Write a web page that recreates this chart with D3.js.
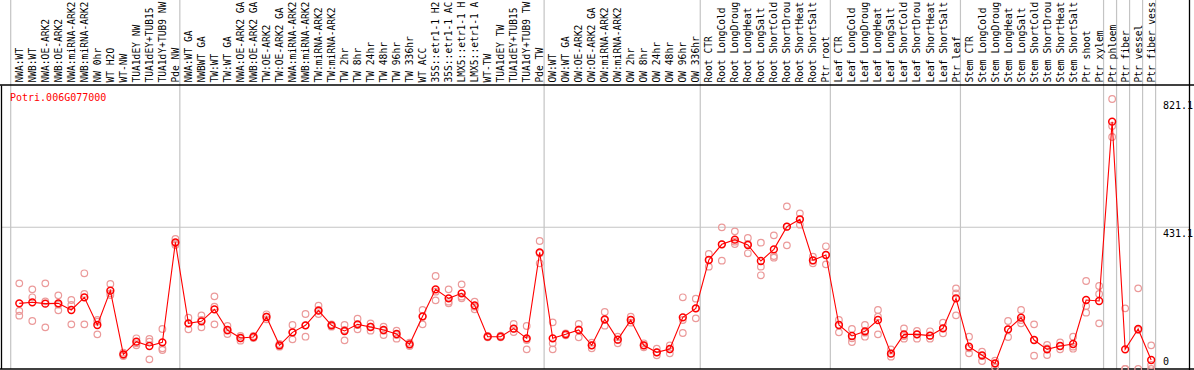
<!DOCTYPE html>
<html>
<head>
<meta charset="utf-8">
<script src="https://cdn.jsdelivr.net/npm/d3@7"></script>
<style>
  html, body { margin: 0; padding: 0; background: #fff; }
  svg { display: block; }
  text { font-family: "DejaVu Sans Mono", monospace; font-size: 10px; }
  text.cat { font-size: 9.6px; }
</style>
</head>
<body>
<script>
const geneName = "Potri.006G077000";

const categories = [
  "NWA:WT","NWB:WT","NWA:OE-ARK2","NWB:OE-ARK2","NWA:miRNA-ARK2","NWB:miRNA-ARK2","NW 0hr","WT H2O","WT-NW","TUA1dEY NW","TUA1dEY+TUB15","TUA1dY+TUB9 NW","Pde NW",
  "NWA:WT GA","NWBWT GA","TW:WT","TW:WT GA","NWA:OE-ARK2 GA","NWB:OE-ARK2 GA","TW:OE-ARK2","TW:OE-ARK2 GA","NWA:miRNA-ARK2","NWB:miRNA-ARK2","TW:miRNA-ARK2","TW:miRNA-ARK2",
  "TW 2hr","TW 8hr","TW 24hr","TW 48hr","TW 96hr","TW 336hr","WT ACC","35S::etr1-1 H2","35S::etr1-1 AC","LMX5::etr1-1 H","LMX5::etr1-1 A","WT-TW","TUA1dEY TW","TUA1dEY+TUB15","TUA1dY+TUB9 TW","Pde TW",
  "OW:WT","OW:WT GA","OW:OE-ARK2","OW:OE-ARK2 GA","OW:miRNA-ARK2","OW:miRNA-ARK2","OW 2hr","OW 8hr","OW 24hr","OW 48hr","OW 96hr","OW 336hr",
  "Root CTR","Root LongCold","Root LongDroug","Root LongHeat","Root LongSalt","Root ShortCold","Root ShortDrou","Root ShortHeat","Root ShortSalt","Ptr root",
  "Leaf CTR","Leaf LongCold","Leaf LongDroug","Leaf LongHeat","Leaf LongSalt","Leaf ShortCold","Leaf ShortDrou","Leaf ShortHeat","Leaf ShortSalt","Ptr leaf",
  "Stem CTR","Stem LongCold","Stem LongDroug","Stem LongHeat","Stem LongSalt","Stem ShortCold","Stem ShortDrou","Stem ShortHeat","Stem ShortSalt","Ptr shoot","Ptr xylem",
  "Ptr phloem","Ptr fiber","Ptr vessel","Ptr fiber vess"
];

const means = [
  199.7,202.8,198.7,199.7,179.4,218.0,133.8,238.2,44.6,83.1,70.0,81.1,385.2,
  138.9,145.0,181.5,118.6,94.3,97.3,158.2,72.0,111.5,132.8,177.4,132.8,
  115.6,135.8,127.7,118.6,106.4,75.0,160.2,242.3,214.9,230.1,193.6,98.3,98.3,122.7,93.3,354.8,
  93.3,105.4,118.6,72.0,151.1,89.2,149.0,72.0,50.7,60.8,157.1,184.5,
  331.5,379.2,393.3,377.1,328.5,364.0,432.9,455.2,330.5,346.7,
  133.8,100.4,114.6,149.0,46.6,105.4,105.4,101.4,123.7,214.9,
  67.9,41.6,17.2,120.6,156.1,88.2,59.8,70.0,76.0,209.9,206.8,
  752.2,59.8,121.7,27.4
];

const rep1 = [
  260.5,242.3,260.5,224.0,209.9,291.0,149.0,258.5,49.7,93.3,91.2,121.7,395.4,
  156.1,163.2,221.0,130.8,100.4,100.4,166.3,76.0,133.8,167.3,192.6,135.8,
  133.8,153.1,138.9,128.8,116.6,80.1,179.4,282.8,242.3,257.5,204.8,100.4,101.4,136.9,130.8,389.3,
  141.9,108.5,136.9,80.1,173.4,98.3,159.2,78.1,61.8,72.0,218.0,213.9,
  349.8,430.8,418.7,398.4,384.2,406.5,494.7,473.4,341.6,373.1,
  149.0,121.7,133.8,179.4,59.8,123.7,115.6,114.6,140.9,245.3,
  98.3,52.7,25.3,146.0,179.4,135.8,73.0,81.1,98.3,267.6,252.4,
  821.1,184.5,245.3,72.0
];

const rep2 = [
  176.4,218.0,205.8,195.7,194.6,228.1,144.0,230.1,42.6,78.1,83.1,62.9,382.2,
  138.9,149.0,189.6,116.6,93.3,97.3,159.2,72.0,111.5,132.8,179.4,132.8,
  118.6,133.8,128.8,116.6,103.4,75.0,159.2,235.2,204.8,220.0,189.6,98.3,98.3,122.7,88.2,351.8,
  78.1,105.4,120.6,72.0,149.0,88.2,149.0,72.0,50.7,59.8,149.0,184.5,
  331.5,379.2,387.3,380.2,311.2,343.7,432.9,455.2,329.5,346.7,
  133.8,93.3,110.5,159.2,47.6,100.4,105.4,101.4,123.7,230.1,
  62.9,39.5,15.2,120.6,149.0,88.2,62.9,70.0,67.9,191.6,228.1,
  739.0,0,118.6,12.2
];

const rep3 = [
  162.2,146.0,126.7,178.4,135.8,135.8,105.4,225.0,39.5,72.0,29.4,57.8,377.1,
  120.6,126.7,135.8,106.4,86.2,94.3,151.1,67.9,90.2,98.3,167.3,128.8,
  87.2,120.6,116.6,103.4,92.3,69.9,135.8,208.8,199.7,214.9,181.5,96.3,96.3,112.5,59.8,321.4,
  59.8,102.4,96.3,62.9,131.8,78.1,140.9,65.9,41.6,47.6,109.5,154.1,
  311.2,329.5,380.2,351.8,284.9,338.6,376.1,439.0,321.4,318.3,
  111.5,82.1,98.3,105.4,37.5,92.3,92.3,92.3,108.5,163.2,
  47.6,24.3,5.1,97.3,138.9,40.6,42.6,59.8,61.8,171.3,138.9,
  705.6,0,0,0
];

const groupBreaks = [0, 13, 41, 53, 63, 73, 84, 85, 86, 87, 88];
const yTickValues = [821.1, 431.1, 0];
const yMidValue = 431.1;

const W = 1194, H = 370;
const plotTop = 85.5, plotBottom = 369, frameLeft = 1.5, frameRight = 1189.5;

const svg = d3.select("body").append("svg").attr("width", W).attr("height", H);

const xEdge = d3.scaleLinear().domain([0, categories.length]).range([10.7, 1155.6]);
const xc = i => xEdge(i + 0.66);
const y = d3.scaleLinear().domain([0, yMidValue * 2]).range([plotBottom, plotTop]);

// mid gridline
svg.append("line")
  .attr("x1", frameLeft).attr("x2", frameRight)
  .attr("y1", y(yMidValue)).attr("y2", y(yMidValue))
  .attr("stroke", "#c4c4c4").attr("stroke-width", 1.2);

// group separators
svg.selectAll("line.sep").data(groupBreaks).enter().append("line")
  .attr("class", "sep")
  .attr("x1", d => xEdge(d)).attr("x2", d => xEdge(d))
  .attr("y1", 0).attr("y2", plotBottom)
  .attr("stroke", "#c4c4c4").attr("stroke-width", 1.2);

// frame
svg.append("line").attr("x1", 0).attr("x2", W).attr("y1", plotTop - 0.5).attr("y2", plotTop - 0.5)
  .attr("stroke", "#000").attr("stroke-width", 1.3);
svg.append("line").attr("x1", 0).attr("x2", W).attr("y1", plotBottom).attr("y2", plotBottom)
  .attr("stroke", "#000").attr("stroke-width", 1.3);
svg.append("line").attr("x1", frameLeft).attr("x2", frameLeft).attr("y1", plotTop).attr("y2", plotBottom)
  .attr("stroke", "#000").attr("stroke-width", 1.3);
svg.append("line").attr("x1", frameRight).attr("x2", frameRight).attr("y1", 0).attr("y2", H)
  .attr("stroke", "#000").attr("stroke-width", 1.3);

// category labels
svg.selectAll("text.cat").data(categories).enter().append("text")
  .attr("class", "cat")
  .attr("transform", (d, i) => `translate(${xc(i) + 3.5},82.5) rotate(-90)`)
  .attr("fill", "#000")
  .text(d => d);

// replicates
const repData = [];
[rep1, rep2, rep3].forEach(arr => arr.forEach((v, i) => repData.push({i, v})));
svg.selectAll("circle.rep").data(repData).enter().append("circle")
  .attr("class", "rep")
  .attr("cx", d => xc(d.i)).attr("cy", d => y(d.v)).attr("r", 3.3)
  .attr("fill", "none").attr("stroke", "#eb9a9a").attr("stroke-width", 1.2);

// mean line
const line = d3.line().x((d, i) => xc(i)).y(d => y(d));
svg.append("path").datum(means).attr("d", line)
  .attr("fill", "none").attr("stroke", "#ff0000").attr("stroke-width", 1.1);

// means
svg.selectAll("circle.mean").data(means).enter().append("circle")
  .attr("class", "mean")
  .attr("cx", (d, i) => xc(i)).attr("cy", d => y(d)).attr("r", 3.4)
  .attr("fill", "none").attr("stroke", "#ff0000").attr("stroke-width", 1.5);

// gene name
svg.append("text").attr("x", 10).attr("y", 100.5).attr("fill", "#ff0000").text(geneName);

// y tick labels
svg.selectAll("text.ytick").data(yTickValues).enter().append("text")
  .attr("class", "ytick")
  .attr("x", 1163)
  .attr("y", d => d === 0 ? y(d) - 4 : y(d) + 10)
  .attr("fill", "#000")
  .text(d => d === 0 ? "0" : d3.format(".1f")(d));
</script>
</body>
</html>
